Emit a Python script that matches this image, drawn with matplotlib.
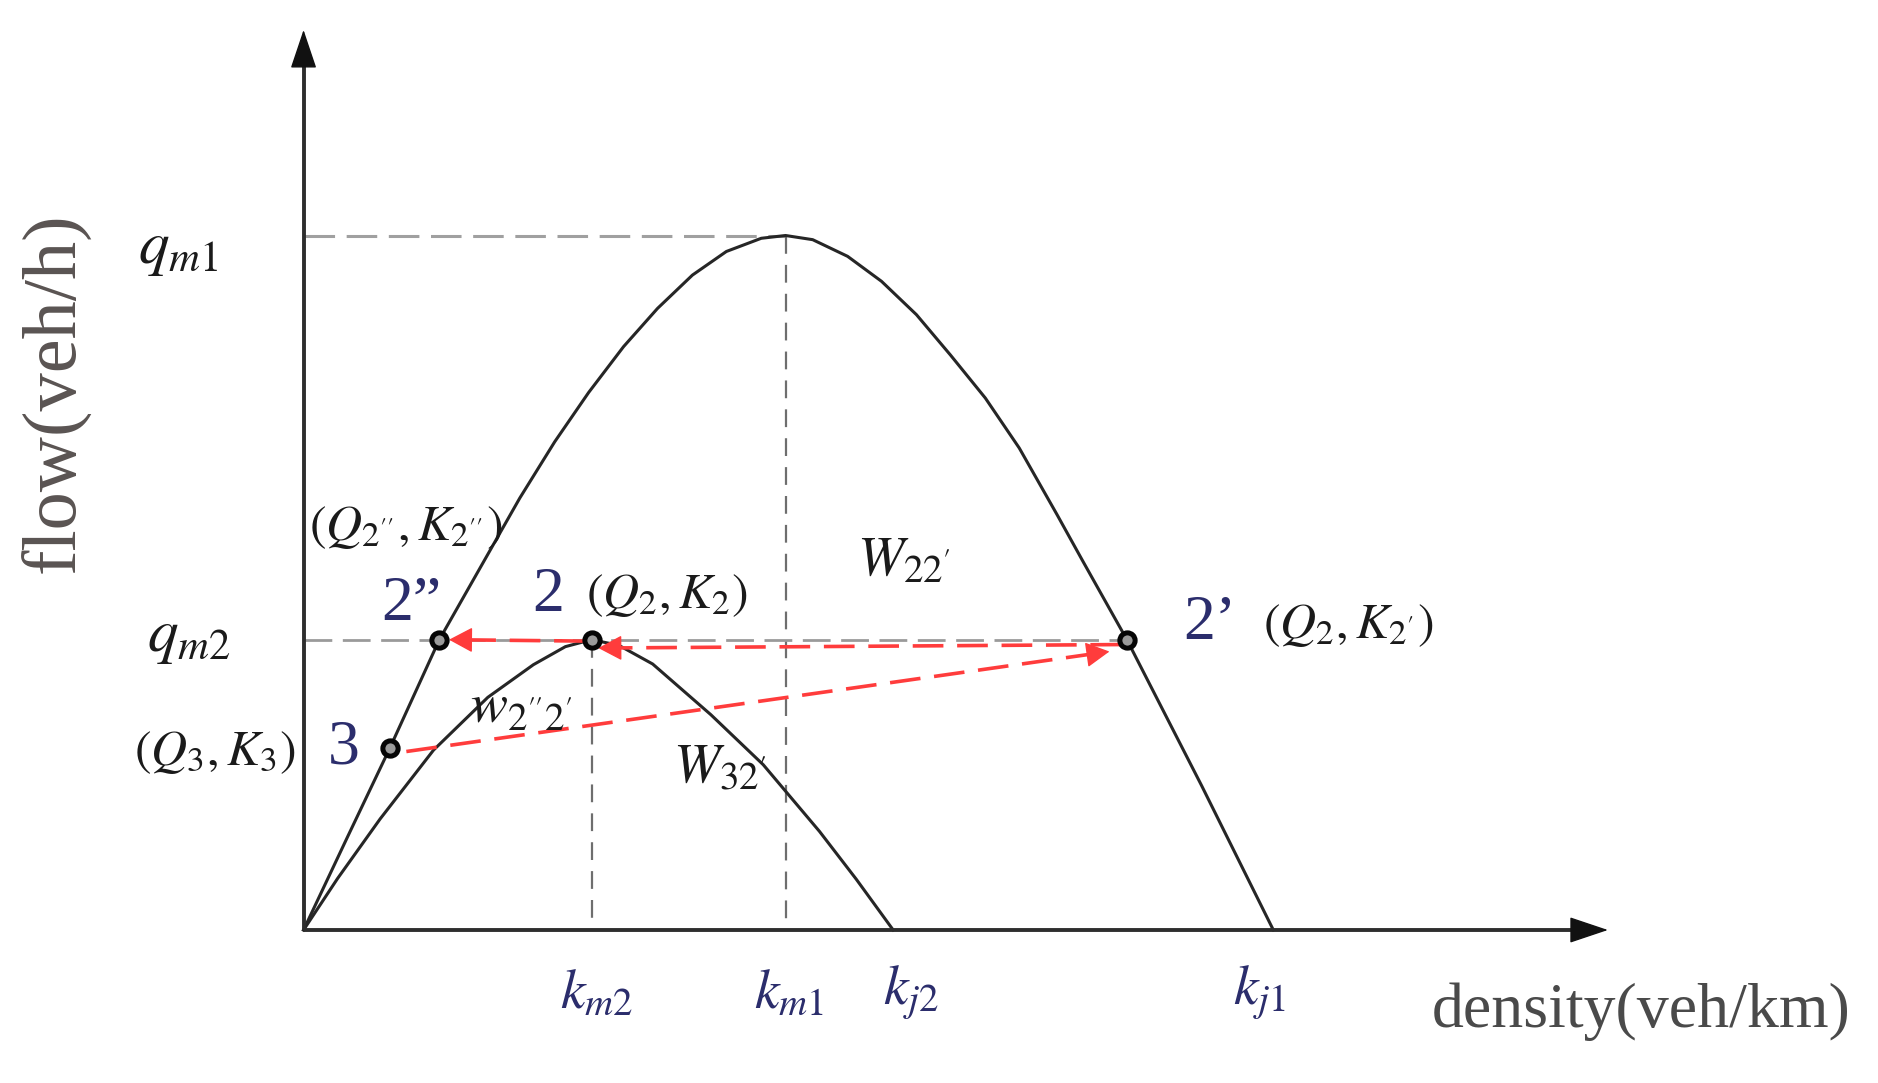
import matplotlib
matplotlib.use("Agg")
import matplotlib.pyplot as plt

plt.rcParams['font.family'] = 'serif'
plt.rcParams['font.serif'] = ['Liberation Serif', 'DejaVu Serif']
plt.rcParams['mathtext.fontset'] = 'stix'

# ---- data ----
k_big = [0, 4.5, 8.9, 14.0, 22.3, 25.9, 29.4, 33.0, 36.5, 40.1, 43.6, 47.2, 49.7,
         52.5, 56.1, 59.6, 63.2, 66.7, 70.3, 73.8, 77.7, 80.4, 84.9, 92.6, 100]
q_big = [0, 13.3, 26.2, 41.8, 62.2, 70.3, 77.4, 84.0, 89.5, 94.3, 97.7, 99.6, 100,
         99.4, 97.0, 93.4, 88.6, 82.8, 76.6, 69.4, 59.8, 53.0, 41.8, 20.8, 0]

k_small = [0, 3.5, 7.9, 13.4, 19.0, 23.7, 27.0, 29.7, 32.5, 36.0, 42.0, 47.4, 53.2, 57.0, 60.8]
q_small = [0, 7.4, 16.0, 25.9, 33.5, 38.2, 40.8, 41.8, 41.0, 38.3, 31.0, 23.8, 14.2, 7.3, 0]

k_m1, k_m2, k_j2, k_j1 = 49.7, 29.7, 60.8, 100.0
q_m1, q_m2 = 100.0, 41.8

pt_names = ["2''", "2", "2'", "3"]
pt_k = [14.0, 29.7, 84.9, 8.9]
pt_q = [41.8, 41.8, 41.8, 26.2]

x_axis_end, y_axis_end = 134.5, 129.6

# ---- figure ----
fig = plt.figure(figsize=(18.78, 10.83), dpi=100)
ax = fig.add_axes([0, 0, 1, 1])
ax.set_xlim(-31.30, 162.35)
ax.set_ylim(-22.03, 133.91)
ax.axis('off')

NAVY = '#2b2d6c'
CURVE = '#262626'
RED = '#ff3c3c'
INK = '#1a1a1a'

# axes with arrows
ax.plot([0, x_axis_end - 2], [0, 0], color='#2e2e2e', lw=2.8, solid_capstyle='butt', zorder=3)
ax.plot([0, 0], [0, y_axis_end - 3], color='#2e2e2e', lw=2.8, solid_capstyle='butt', zorder=3)
ax.annotate('', xy=(x_axis_end, 0), xytext=(x_axis_end - 3, 0),
            arrowprops=dict(arrowstyle='-|>,head_length=1.25,head_width=0.42',
                            mutation_scale=20, color='#111111', lw=1,
                            shrinkA=0, shrinkB=0), zorder=4)
ax.annotate('', xy=(0, y_axis_end), xytext=(0, y_axis_end - 4),
            arrowprops=dict(arrowstyle='-|>,head_length=1.25,head_width=0.42',
                            mutation_scale=20, color='#111111', lw=1,
                            shrinkA=0, shrinkB=0), zorder=4)

# gray guide lines
gdash = (0, (10, 3.8))
vdash = (0, (8, 5))
ax.plot([0, k_m1], [q_m1, q_m1], color='#a0a0a0', lw=2.2, linestyle=gdash, zorder=1)
ax.plot([k_m1, k_m1], [q_m1, 0], color='#6e6e6e', lw=1.6, linestyle=vdash, zorder=1)
ax.plot([0, pt_k[2]], [q_m2, q_m2], color='#9a9a9a', lw=2.0, linestyle=gdash, zorder=1)
ax.plot([k_m2, k_m2], [q_m2, 0], color='#6e6e6e', lw=1.6, linestyle=vdash, zorder=1)

# curves
ax.plot(k_big, q_big, color=CURVE, lw=2.2, zorder=2, solid_joinstyle='round')
ax.plot(k_small, q_small, color=CURVE, lw=2.2, zorder=2, solid_joinstyle='round')

# red dashed arrows: (start, tip)
rdash = (0, (8.5, 3.8))
red_arrows = [
    ((84.3, 41.1), (30.4, 40.6)),   # 2' -> 2
    ((29.0, 41.6), (15.0, 41.8)),   # 2 -> 2''
    ((10.6, 25.7), (83.1, 40.1)),   # 3 -> 2'
]
for (x0, y0), (x1, y1) in red_arrows:
    dx, dy = x1 - x0, y1 - y0
    f = 1.0 - 1.2 / (dx * dx + dy * dy) ** 0.5
    ax.plot([x0, x0 + f * dx], [y0, y0 + f * dy],
            color=RED, lw=2.6, linestyle=rdash, zorder=3)
    ax.annotate('', xy=(x1, y1), xytext=(x1 - 0.05 * dx, y1 - 0.05 * dy),
                arrowprops=dict(arrowstyle='-|>,head_length=0.75,head_width=0.4',
                                mutation_scale=20, color=RED, lw=1,
                                shrinkA=0, shrinkB=0), zorder=4)

# points
ax.plot(pt_k, pt_q, linestyle='none', marker='o', markersize=11,
        markerfacecolor='#9a9a9a', markeredgecolor='#050505', markeredgewidth=3.6, zorder=5)

# labels
ax.text(-12.95, 97.9, r'$q_{m1}$', fontsize=44, color=INK, ha='center', va='center')
ax.text(-11.8, 42.0, r'$q_{m2}$', fontsize=44, color=INK, ha='center', va='center')
ax.text(-25.6, 77.3, 'flow(veh/h)', fontsize=55, color='#5a5452', ha='center', va='center',
        rotation=90)
ax.text(137.9, -11.8, 'density(veh/km)', fontsize=46, color='#4a4a4a', ha='center', va='center')

for kk, lab in [(30.2, r'$k_{m2}$'), (50.06, r'$k_{m1}$'), (62.6, r'$k_{j2}$'), (98.6, r'$k_{j1}$')]:
    ax.text(kk, -9.1, lab, fontsize=40, color=NAVY, ha='center', va='center')

ax.text(11.1, 46.8, '2\u201d', fontsize=46, color=NAVY, ha='center', va='center')
ax.text(25.2, 48.1, '2', fontsize=46, color=NAVY, ha='center', va='center')
ax.text(93.5, 44.1, '2\u2019', fontsize=46, color=NAVY, ha='center', va='center')
ax.text(4.1, 26.1, '3', fontsize=46, color=NAVY, ha='center', va='center')

ax.text(10.6, 58.0, r"$(Q_{2''},K_{2''})$", fontsize=36, color=INK, ha='center', va='center')
ax.text(37.4, 48.1, r"$(Q_2,K_2)$", fontsize=36, color=INK, ha='center', va='center')
ax.text(107.7, 43.8, r"$(Q_2,K_{2'})$", fontsize=36, color=INK, ha='center', va='center')
ax.text(-9.2, 25.6, r"$(Q_3,K_3)$", fontsize=36, color=INK, ha='center', va='center')

ax.text(61.9, 53.0, r"$W_{22'}$", fontsize=40, color=INK, ha='center', va='center')
ax.text(22.4, 31.7, r"$w_{2''2'}$", fontsize=40, color=INK, ha='center', va='center')
ax.text(42.9, 23.3, r"$W_{32'}$", fontsize=40, color=INK, ha='center', va='center')

fig.savefig('out.png', dpi=100, facecolor='white')
